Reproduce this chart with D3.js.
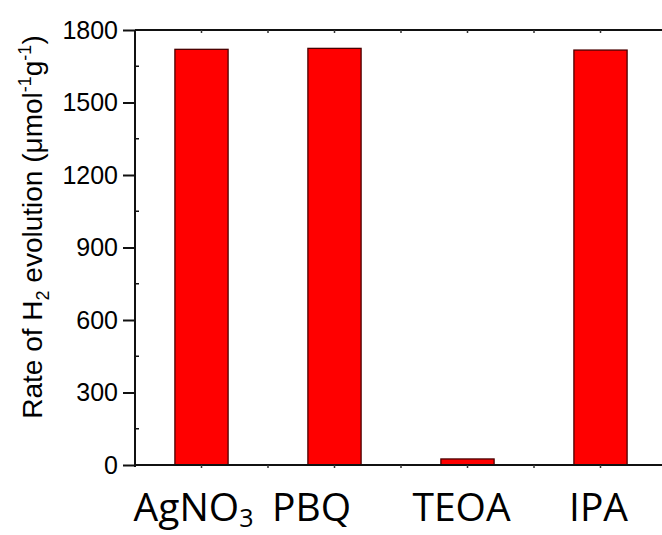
<!DOCTYPE html>
<html>
<head>
<meta charset="utf-8">
<script src="https://cdn.jsdelivr.net/npm/d3@7"></script>
<style>
  body { margin: 0; background: #fff; }
  svg { display: block; }
</style>
</head>
<body>
<svg id="chart" width="662" height="535"></svg>
<script>
// data
const categories = ['AgNO3', 'PBQ', 'TEOA', 'IPA'];
const rates = [1720, 1724, 25, 1717];
const yTicks = [0, 300, 600, 900, 1200, 1500, 1800];

// hand-placed label nudges (px) like the original text boxes
const labelNudge = [-8, -23, -6, -2];

const svg = d3.select('#chart');
const plotL = 135, plotT = 30, plotB = 465, plotR = 667;

const x = d3.scaleLinear().domain([0.5, 4.5]).range([plotL, plotR]);
const y = d3.scaleLinear().domain([0, 1800]).range([plotB, plotT]);
const barW = (x(1) - x(0.5)) * 0.8;

// bars
svg.append('g')
  .selectAll('rect')
  .data(rates)
  .join('rect')
  .attr('x', (d, i) => x(i + 1) - barW / 2)
  .attr('y', d => y(d))
  .attr('width', barW)
  .attr('height', d => y(0) - y(d))
  .attr('fill', '#ff0000')
  .attr('stroke', '#4a0000')
  .attr('stroke-width', 1.3);

// frame lines
const frame = svg.append('g').attr('stroke', '#111').attr('stroke-width', 2);
frame.append('line').attr('x1', plotL).attr('x2', plotR).attr('y1', plotB).attr('y2', plotB);
frame.append('line').attr('x1', plotL).attr('x2', plotR).attr('y1', plotT).attr('y2', plotT);
frame.append('line').attr('x1', plotL).attr('x2', plotL).attr('y1', plotT).attr('y2', plotB + 2);

// y axis, major ticks outward
const yAxis = d3.axisLeft(y).tickValues(yTicks).tickFormat(d3.format('d')).tickSize(12).tickPadding(5);
const gy = svg.append('g').attr('transform', `translate(${plotL},0)`).call(yAxis);
gy.select('.domain').remove();
gy.selectAll('.tick line').attr('stroke', '#111').attr('stroke-width', 2);
gy.selectAll('.tick text')
  .attr('fill', '#000')
  .attr('font-size', 25)
  .style('font-family', '"Liberation Sans", Arial, sans-serif')
  .style('font-size', '25px');

// y minor ticks inward
const yMinor = d3.range(150, 1800, 300);
svg.append('g')
  .selectAll('line')
  .data(yMinor)
  .join('line')
  .attr('x1', plotL).attr('x2', plotL + 4)
  .attr('y1', d => y(d)).attr('y2', d => y(d))
  .attr('stroke', '#111').attr('stroke-width', 1.5);

// x small ticks, bottom and top
const xMinor = d3.range(1, 4.6, 0.5);
svg.append('g')
  .selectAll('line')
  .data(xMinor)
  .join('line')
  .attr('x1', d => x(d)).attr('x2', d => x(d))
  .attr('y1', plotB).attr('y2', plotB + 3)
  .attr('stroke', '#333').attr('stroke-width', 1.5);
svg.append('g')
  .selectAll('line')
  .data(xMinor)
  .join('line')
  .attr('x1', d => x(d)).attr('x2', d => x(d))
  .attr('y1', plotT).attr('y2', plotT + 3)
  .attr('stroke', '#333').attr('stroke-width', 1.5);

// category labels
const cat = svg.append('g')
  .selectAll('text')
  .data(categories)
  .join('text')
  .attr('x', (d, i) => x(i + 1) + labelNudge[i])
  .attr('y', 521)
  .attr('text-anchor', 'middle')
  .style('font-family', '"Open Sans", "Noto Sans", sans-serif')
  .style('font-size', '39px');

cat.each(function (d) {
  const t = d3.select(this);
  const m = d.match(/^(.*?)(\d+)$/);
  if (m) {
    t.append('tspan').text(m[1]);
    t.append('tspan').text(m[2]).style('font-size', '25px').attr('dy', 6);
  } else {
    t.text(d);
  }
});

// y axis title
const title = svg.append('text')
  .attr('transform', 'translate(42,227) rotate(-90)')
  .attr('text-anchor', 'middle')
  .style('font-family', '"Liberation Sans", Arial, sans-serif')
  .style('font-size', '28px');
title.append('tspan').text('Rate of H');
title.append('tspan').text('2').style('font-size', '18px').attr('dy', 7);
title.append('tspan').text(' evolution (μmol').attr('dy', -7);
title.append('tspan').text('-1').style('font-size', '18px').attr('dy', -11);
title.append('tspan').text('g').attr('dy', 11);
title.append('tspan').text('-1').style('font-size', '18px').attr('dy', -11);
title.append('tspan').text(')').attr('dy', 11);
</script>
</body>
</html>
